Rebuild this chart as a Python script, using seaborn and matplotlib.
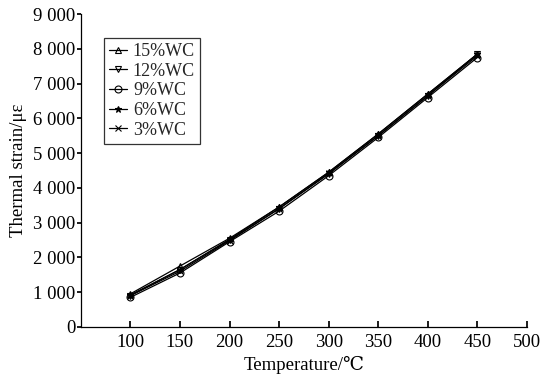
import numpy as np
import pandas as pd
import matplotlib
matplotlib.use('Agg')
import matplotlib.pyplot as plt
import seaborn as sns
from matplotlib.ticker import FuncFormatter

temps = [100, 150, 200, 250, 300, 350, 400, 450]
wc_15 = [950, 1750, 2550, 3450, 4450, 5550, 6700, 7850]
wc_12 = [900, 1650, 2500, 3400, 4400, 5500, 6650, 7850]
wc_9 = [850, 1550, 2450, 3330, 4350, 5450, 6600, 7750]
wc_6 = [920, 1650, 2520, 3450, 4450, 5550, 6700, 7850]
wc_3 = [900, 1600, 2480, 3400, 4420, 5500, 6650, 7800]
labels = ['15%WC', '12%WC', '9%WC', '6%WC', '3%WC']
series = [wc_15, wc_12, wc_9, wc_6, wc_3]
marker_list = ['^', 'v', 'o', '*', 'x']

sns.set_theme(style="ticks")
plt.rcParams['font.family'] = ['Liberation Serif', 'DejaVu Serif']

fig = plt.figure(figsize=(5.46, 3.81), dpi=100)
ax = fig.add_axes([0.148, 0.142, 0.817, 0.821])

for lab, vals, mk in zip(labels, series, marker_list):
    face = 'black' if mk == '*' else 'none'
    sns.lineplot(x=temps, y=vals, ax=ax, label=lab, color='black',
                 marker=mk, markersize=5, markerfacecolor=face,
                 markeredgecolor='black', markeredgewidth=0.8, linewidth=0.9)

ax.set_xlim(50, 500)
ax.set_ylim(0, 9000)
ax.set_xticks(range(100, 501, 50))
ax.set_yticks(range(0, 9001, 1000))
ax.yaxis.set_major_formatter(FuncFormatter(lambda v, p: f"{int(v):,}".replace(',', ' ')))
ax.tick_params(axis='x', direction='in', length=4, labelsize=13.5, colors='black', pad=5)
ax.tick_params(axis='y', direction='out', length=3, labelsize=13.5, colors='black', pad=1)
ax.spines['top'].set_visible(False)
ax.spines['right'].set_visible(False)
for s in ['left', 'bottom']:
    ax.spines[s].set_color('black')
    ax.spines[s].set_linewidth(0.9)
ax.set_xlabel('Temperature/℃', fontsize=13.5, color='black', labelpad=4)
ax.set_ylabel('Thermal strain/με', fontsize=13.5, color='black', labelpad=4)

leg = ax.legend(loc='upper left', bbox_to_anchor=(0.052, 0.925), fontsize=13,
                frameon=True, fancybox=False, edgecolor='black',
                handlelength=1.0, handletextpad=0.3, labelspacing=0.15,
                borderpad=0.3, borderaxespad=0)
leg.get_frame().set_linewidth(0.9)

fig.savefig('out.png', dpi=100)
